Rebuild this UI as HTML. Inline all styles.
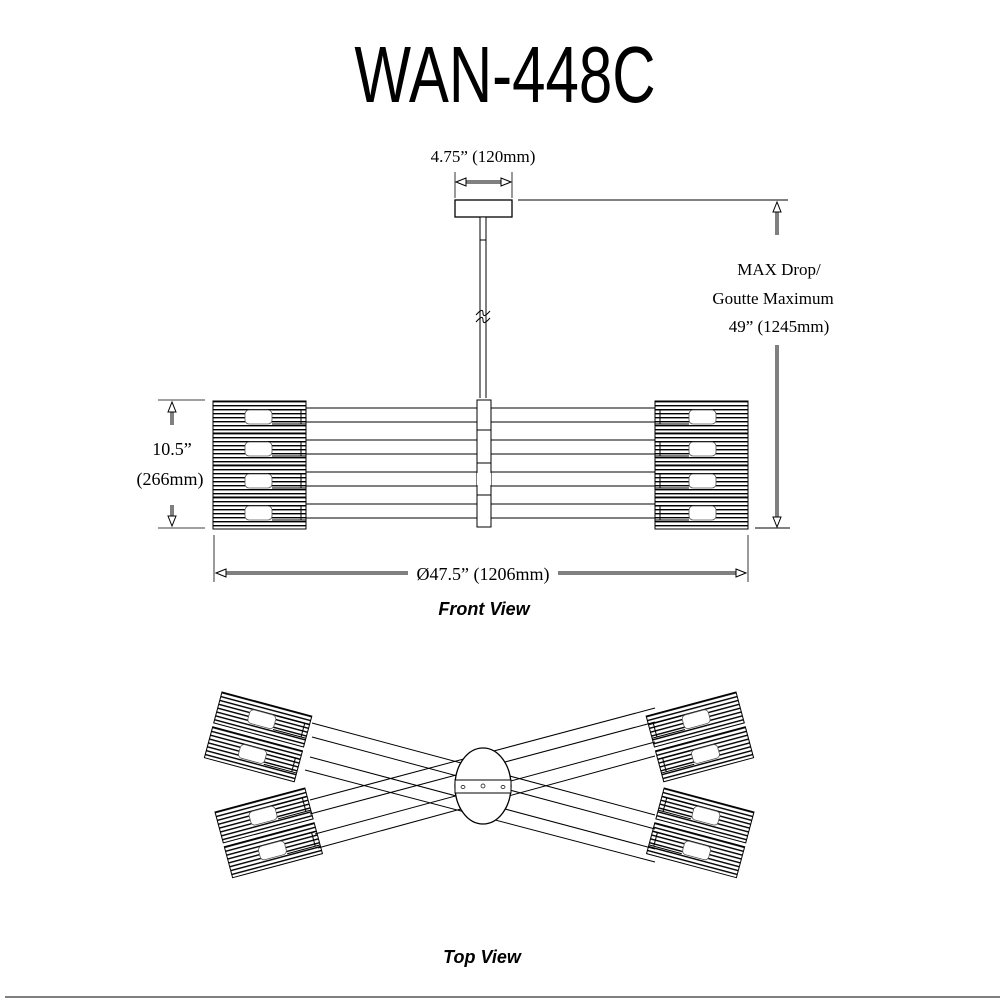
<!DOCTYPE html>
<html><head><meta charset="utf-8"><style>
html,body{margin:0;padding:0;background:#fff}
svg{display:block}
text{font-family:"Liberation Serif",serif;fill:#000}
</style></head><body>
<svg width="1000" height="1000" viewBox="0 0 1000 1000" xmlns="http://www.w3.org/2000/svg">
<defs>
<pattern id="hl" x="0" y="0" width="10" height="4" patternUnits="userSpaceOnUse">
<rect x="0" y="0" width="10" height="1.4" fill="#000"/>
</pattern>
<g id="shade">
<rect x="0" y="0" width="93" height="32" fill="url(#hl)" stroke="#000" stroke-width="1"/>
<rect x="32" y="9" width="27" height="14" rx="4" fill="#fff" stroke="#555" stroke-width="0.8"/>
<line x1="59" y1="9" x2="93" y2="9" stroke="#000"/>
<line x1="59" y1="23" x2="93" y2="23" stroke="#000"/>
<line x1="88" y1="9" x2="88" y2="23" stroke="#000"/>
</g>
<g id="grp">
<use href="#shade" x="0" y="0"/>
<use href="#shade" x="0" y="36"/>
</g>
</defs>

<text x="0" y="102" font-size="80" text-anchor="middle" style="font-family:'Liberation Sans',sans-serif" transform="translate(505,0) scale(0.75,1)">WAN-448C</text>

<!-- top dimension -->
<text x="483" y="162" font-size="17" text-anchor="middle">4.75” (120mm)</text>
<line x1="455" y1="172" x2="455" y2="198" stroke="#000" stroke-width="0.8"/>
<line x1="512" y1="172" x2="512" y2="198" stroke="#000" stroke-width="0.8"/>
<line x1="458" y1="181" x2="509" y2="181" stroke="#000" stroke-width="1"/>
<line x1="458" y1="183" x2="509" y2="183" stroke="#000" stroke-width="1"/>
<path d="M456,182 L466,178 L466,186 Z M511,182 L501,178 L501,186 Z" fill="#fff" stroke="#000"/>

<!-- canopy & stem -->
<rect x="455" y="200" width="57" height="17" fill="#fff" stroke="#000" stroke-width="1.3"/>
<rect x="480" y="217" width="6" height="23" fill="#fff" stroke="#000"/>
<line x1="480" y1="240" x2="480" y2="398" stroke="#000"/>
<line x1="486" y1="240" x2="486" y2="398" stroke="#000"/>
<path d="M476,315 q7,-8 7,-2 q0,6 7,-2 M476,322 q7,-8 7,-2 q0,6 7,-2" fill="none" stroke="#000"/>
<line x1="518" y1="200" x2="788" y2="200" stroke="#000"/>

<!-- max drop -->
<text x="779" y="275" font-size="17" text-anchor="middle">MAX Drop/</text>
<text x="773" y="304" font-size="17" text-anchor="middle">Goutte Maximum</text>
<text x="779" y="332" font-size="17" text-anchor="middle">49” (1245mm)</text>
<line x1="776" y1="210" x2="776" y2="235" stroke="#000"/><line x1="778" y1="210" x2="778" y2="235" stroke="#000"/>
<path d="M777,202 L773,212 L781,212 Z" fill="#fff" stroke="#000"/>
<line x1="776" y1="345" x2="776" y2="520" stroke="#000"/><line x1="778" y1="345" x2="778" y2="520" stroke="#000"/>
<path d="M777,527 L773,517 L781,517 Z" fill="#fff" stroke="#000"/>
<line x1="755" y1="528" x2="790" y2="528" stroke="#000"/>

<!-- front view rods -->
<g stroke="#000" stroke-width="1">
<line x1="306" y1="408" x2="655" y2="408"/><line x1="306" y1="422" x2="655" y2="422"/>
<line x1="306" y1="440" x2="655" y2="440"/><line x1="306" y1="454" x2="655" y2="454"/>
<line x1="306" y1="472" x2="655" y2="472"/><line x1="306" y1="486" x2="655" y2="486"/>
<line x1="306" y1="504" x2="655" y2="504"/><line x1="306" y1="518" x2="655" y2="518"/>
</g>
<rect x="477" y="400" width="14" height="127" fill="#fff" stroke="#000"/>
<line x1="477" y1="430" x2="491" y2="430" stroke="#000"/>
<line x1="477" y1="463" x2="491" y2="463" stroke="#000"/>
<line x1="477" y1="495" x2="491" y2="495" stroke="#000"/>
<rect x="477" y="473" width="14" height="12" fill="#fff" stroke="none"/>

<g>
<use href="#shade" x="213" y="401"/><use href="#shade" x="213" y="433"/>
<use href="#shade" x="213" y="465"/><use href="#shade" x="213" y="497"/>
</g>
<g transform="translate(1403,0) scale(-1,1)">
<use href="#shade" x="655" y="401"/><use href="#shade" x="655" y="433"/>
<use href="#shade" x="655" y="465"/><use href="#shade" x="655" y="497"/>
</g>

<!-- height dim -->
<line x1="158" y1="400" x2="205" y2="400" stroke="#000" stroke-width="0.8"/>
<line x1="158" y1="528" x2="205" y2="528" stroke="#000" stroke-width="0.8"/>
<line x1="171" y1="410" x2="171" y2="425" stroke="#000"/><line x1="173" y1="410" x2="173" y2="425" stroke="#000"/>
<line x1="171" y1="505" x2="171" y2="520" stroke="#000"/><line x1="173" y1="505" x2="173" y2="520" stroke="#000"/>
<path d="M172,402 L168,412 L176,412 Z M172,526 L168,516 L176,516 Z" fill="#fff" stroke="#000"/>
<text x="172" y="455" font-size="18" text-anchor="middle">10.5”</text>
<text x="170" y="485" font-size="18" text-anchor="middle">(266mm)</text>

<!-- width dim -->
<line x1="214" y1="535" x2="214" y2="582" stroke="#000" stroke-width="0.8"/>
<line x1="748" y1="535" x2="748" y2="582" stroke="#000" stroke-width="0.8"/>
<line x1="222" y1="572" x2="408" y2="572" stroke="#000"/><line x1="222" y1="574" x2="408" y2="574" stroke="#000"/>
<line x1="558" y1="572" x2="740" y2="572" stroke="#000"/><line x1="558" y1="574" x2="740" y2="574" stroke="#000"/>
<path d="M216,573 L226,569 L226,577 Z M746,573 L736,569 L736,577 Z" fill="#fff" stroke="#000"/>
<text x="483" y="580" font-size="18" text-anchor="middle">Ø47.5” (1206mm)</text>
<text x="484" y="615" font-size="18" font-style="italic" font-weight="bold" text-anchor="middle" style="font-family:'Liberation Sans',sans-serif">Front View</text>

<!-- top view rods -->
<g stroke="#000" stroke-width="1">
<line x1="312" y1="723" x2="655" y2="815"/>
<line x1="312" y1="737" x2="655" y2="829"/>
<line x1="310" y1="757" x2="655" y2="849"/>
<line x1="305" y1="770" x2="655" y2="862"/>
<line x1="310" y1="800" x2="655" y2="708"/>
<line x1="310" y1="814" x2="655" y2="722"/>
<line x1="315" y1="834" x2="655" y2="742"/>
<line x1="318" y1="848" x2="655" y2="756"/>
</g>
<ellipse cx="483" cy="786" rx="28" ry="38" fill="#fff" stroke="#000" stroke-width="1.3"/>
<rect x="455" y="780" width="56" height="13" fill="#fff" stroke="#000"/>
<ellipse cx="463" cy="787" rx="2" ry="1.5" fill="none" stroke="#000" stroke-width="0.7"/>
<circle cx="483" cy="786" r="2" fill="none" stroke="#000" stroke-width="0.7"/>
<ellipse cx="503" cy="787" rx="2" ry="1.5" fill="none" stroke="#000" stroke-width="0.7"/>

<!-- top view shades -->
<g transform="translate(222,692) rotate(15)"><use href="#grp"/></g>
<g transform="translate(215,812) rotate(-15)"><use href="#grp"/></g>
<g transform="translate(1415,0) scale(-1,1)">
<g transform="translate(679,692) rotate(15)"><use href="#grp"/></g>
<g transform="translate(661,812) rotate(-15)"><use href="#grp"/></g>
</g>

<text x="482" y="963" font-size="18" font-style="italic" font-weight="bold" text-anchor="middle" style="font-family:'Liberation Sans',sans-serif">Top View</text>
<line x1="5" y1="997" x2="1000" y2="997" stroke="#000" stroke-width="1"/>
</svg>
</body></html>
